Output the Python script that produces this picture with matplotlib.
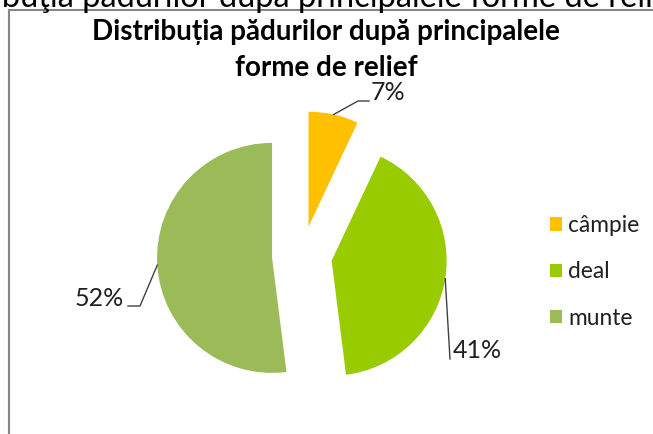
import matplotlib
matplotlib.use("Agg")
import matplotlib.pyplot as plt
import numpy as np
from matplotlib.lines import Line2D

categories = ["câmpie", "deal", "munte"]
values = [7, 41, 52]
labels = ["7%", "41%", "52%"]
colors = ["#FFC000", "#99CC00", "#9BBB59"]
title = "Distribuția pădurilor după principalele\nforme de relief"
page_text = "ibuţia pădurilor după principalele forme de relief"

W, H = 653, 434
fig = plt.figure(figsize=(W / 100, H / 100), dpi=100)
plt.rcParams['font.family'] = ['Lato', 'DejaVu Sans']
ax = fig.add_axes([0, 0, 1, 1])

# cut-off document text above chart
fig.text(-6 / W, 1 - 7 / H, page_text, fontsize=23.5, ha='left', va='baseline', color='black')

# chart frame
ax.add_line(Line2D([9, 9], [0, H - 10], color='#868686', lw=1.5))
ax.add_line(Line2D([9, W + 5], [H - 10, H - 10], color='#868686', lw=1.5))

cx, cy, r = 302, H - 256, 115
wedges, _ = ax.pie(values, colors=colors, startangle=90, counterclock=False,
                   explode=[30] * 3, radius=r, center=(cx, cy), frame=True)
ax.set_xlim(0, W)
ax.set_ylim(0, H)
ax.set_aspect('equal')
ax.axis('off')

# data labels with leader lines
elbows = [[(358, H - 101), (369, H - 101)],
          [(450, H - 359)],
          [(140, H - 306), (128, H - 306)]]
text_pos = [((371, H - 92), 'left'), ((453, H - 351), 'left'), ((124, H - 298), 'right')]
for w, lab, el, (tp, ha) in zip(wedges, labels, elbows, text_pos):
    ang = np.deg2rad((w.theta1 + w.theta2) / 2)
    x0 = w.center[0] + w.r * np.cos(ang)
    y0 = w.center[1] + w.r * np.sin(ang)
    xs = [x0] + [p[0] for p in el]
    ys = [y0] + [p[1] for p in el]
    ax.add_line(Line2D(xs, ys, color='#404040', lw=1))
    ax.text(tp[0], tp[1], lab, fontsize=18, ha=ha, va='center', color='#202020')

fig.text(326 / W, 1 - 50 / H, title, fontsize=20, fontweight='bold', ha='center',
         va='center', linespacing=1.45, color='black')

leg = fig.legend(wedges, categories, loc='center left', bbox_to_anchor=(529 / W, 1 - 272 / H),
                 frameon=False, fontsize=16.4, handlelength=0.53, handleheight=0.53,
                 handletextpad=0.3, labelspacing=1.11)
for t in leg.get_texts():
    t.set_color('#202020')

fig.savefig("out.png", dpi=100)
